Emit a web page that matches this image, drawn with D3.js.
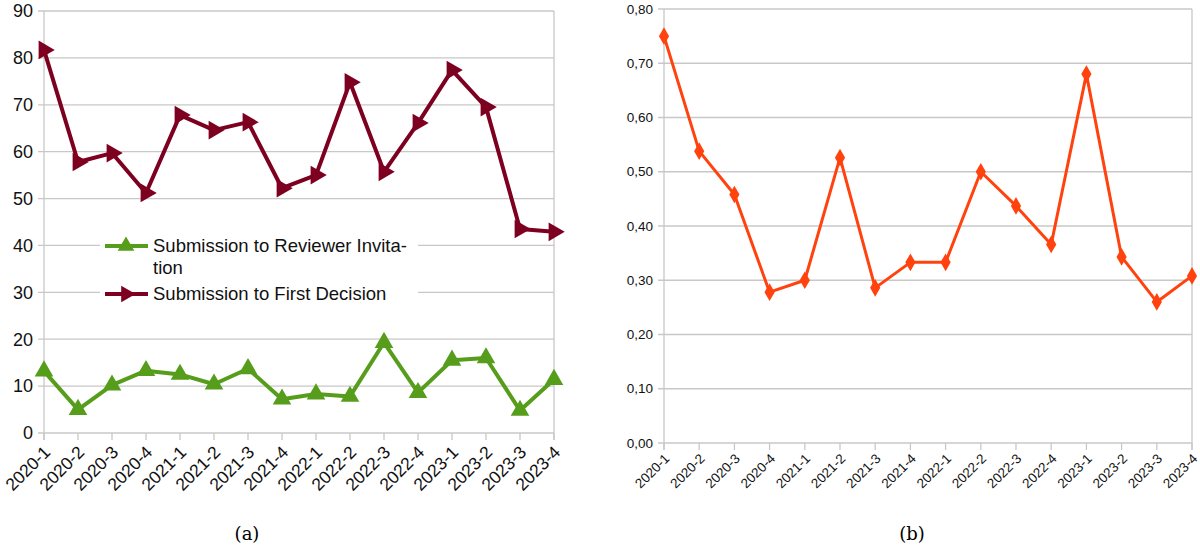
<!DOCTYPE html>
<html>
<head>
<meta charset="utf-8">
<script src="https://cdn.jsdelivr.net/npm/d3@7"></script>
<style>
  body { margin: 0; background: #fff; }
  svg { display: block; font-family: "Liberation Sans", Arial, sans-serif; }
</style>
</head>
<body>
<svg id="chart" width="1200" height="553"></svg>
<script>
const quarters = ["2020-1", "2020-2", "2020-3", "2020-4", "2021-1", "2021-2", "2021-3", "2021-4",
    "2022-1", "2022-2", "2022-3", "2022-4", "2023-1", "2023-2", "2023-3", "2023-4"];

// (a) days
const reviewerInvitation = [13.2, 5.0, 10.2, 13.3, 12.5, 10.4, 13.7, 7.2, 8.3, 7.8, 19.3, 8.6, 15.5, 16.0, 4.8, 11.4];
const firstDecision = [81.7, 57.8, 59.7, 51.2, 67.8, 64.6, 66.3, 52.2, 55.0, 74.8, 55.7, 66.1, 77.4, 69.5, 43.5, 42.9];

// (b) ratio
const ratioValues = [0.75, 0.538, 0.458, 0.278, 0.30, 0.526, 0.286, 0.333, 0.333, 0.50, 0.437, 0.366, 0.68, 0.343, 0.26, 0.308];

const leftTicks = [0, 10, 20, 30, 40, 50, 60, 70, 80, 90];
const rightTicks = [0, 0.1, 0.2, 0.3, 0.4, 0.5, 0.6, 0.7, 0.8];

const colors = {
    green: "#579d1c",
    maroon: "#7e0021",
    orange: "#ff420e",
    grid: "#c8c8c8"
};

const svg = d3.select("#chart");

function drawPanel(opts) {
    const g = svg.append("g");
    const x = d3.scalePoint().domain(quarters).range([opts.left, opts.right]);
    const y = d3.scaleLinear().domain(opts.domain).range([opts.bottom, opts.top]);

    // grid
    g.append("g")
        .selectAll("line")
        .data(opts.ticks)
        .enter()
        .append("line")
        .attr("x1", opts.left - 6)
        .attr("x2", opts.right)
        .attr("y1", d => y(d))
        .attr("y2", d => y(d))
        .attr("stroke", colors.grid)
        .attr("stroke-width", 1.3);

    // frame
    g.append("line")
        .attr("x1", opts.left).attr("x2", opts.left)
        .attr("y1", opts.top).attr("y2", opts.bottom + 7)
        .attr("stroke", colors.grid).attr("stroke-width", 1.3);
    g.append("line")
        .attr("x1", opts.right).attr("x2", opts.right)
        .attr("y1", opts.top).attr("y2", opts.bottom + 7)
        .attr("stroke", colors.grid).attr("stroke-width", 1.3);

    // y labels
    g.append("g")
        .selectAll("text")
        .data(opts.ticks)
        .enter()
        .append("text")
        .attr("x", opts.left - 11)
        .attr("y", d => y(d))
        .attr("dy", "0.35em")
        .attr("text-anchor", "end")
        .style("font-size", opts.yFont + "px")
        .attr("fill", "#111")
        .text(opts.fmt);

    // x ticks + labels
    const xa = g.append("g")
        .selectAll("g")
        .data(quarters)
        .enter()
        .append("g")
        .attr("transform", d => `translate(${x(d)},${opts.bottom})`);
    xa.append("line")
        .attr("y1", 0).attr("y2", 7)
        .attr("stroke", colors.grid).attr("stroke-width", 1.3);
    xa.append("text")
        .attr("transform", `translate(${opts.xShift},${opts.xDown}) rotate(-45)`)
        .attr("text-anchor", "end")
        .attr("dy", "0.35em")
        .style("font-size", opts.xFont + "px")
        .attr("fill", "#111")
        .text(d => d);

    return { g, x, y };
}

function series(g, values, color, width, symbolType, size, rot, xs, ys) {
    g.append("path")
        .datum(values)
        .attr("d", d3.line().x((d, i) => xs(quarters[i])).y(d => ys(d)))
        .attr("fill", "none")
        .attr("stroke", color)
        .attr("stroke-width", width)
        .attr("stroke-linejoin", "round");
    g.append("g")
        .selectAll("path")
        .data(values)
        .enter()
        .append("path")
        .attr("d", d3.symbol().type(symbolType).size(size))
        .attr("transform", (d, i) => `translate(${xs(quarters[i])},${ys(d)}) rotate(${rot})`)
        .attr("fill", color);
}

// ---------- (a)
const a = drawPanel({
    left: 44, right: 554, top: 11, bottom: 433,
    domain: [0, 90], ticks: leftTicks,
    fmt: d => d, yFont: 18, xFont: 17.5, xShift: 3, xDown: 16
});

// legend box
const legend = a.g.append("g");
legend.append("rect")
    .attr("x", 100).attr("y", 232)
    .attr("width", 318).attr("height", 76)
    .attr("fill", "#fff");

series(a.g, reviewerInvitation, colors.green, 4, d3.symbolTriangle, 150, 0, a.x, a.y);
series(a.g, firstDecision, colors.maroon, 4, d3.symbolTriangle, 150, 90, a.x, a.y);

const legendItems = [
    { label: ["Submission to Reviewer Invita-", "tion"], color: colors.green, rot: 0, y: 246 },
    { label: ["Submission to First Decision"], color: colors.maroon, rot: 90, y: 294 }
];

legendItems.forEach(item => {
    legend.append("line")
        .attr("x1", 105).attr("x2", 148)
        .attr("y1", item.y).attr("y2", item.y)
        .attr("stroke", item.color).attr("stroke-width", 4);
    legend.append("path")
        .attr("d", d3.symbol().type(d3.symbolTriangle).size(120))
        .attr("transform", `translate(126,${item.y}) rotate(${item.rot})`)
        .attr("fill", item.color);
    item.label.forEach((t, k) => {
        legend.append("text")
            .attr("x", 153)
            .attr("y", item.y + k * 22)
            .attr("dy", "0.35em")
            .style("font-size", "18.5px")
            .attr("fill", "#111")
            .text(t);
    });
});
legend.raise();

// ---------- (b)
const b = drawPanel({
    left: 664, right: 1192, top: 9, bottom: 443,
    domain: [0, 0.8], ticks: rightTicks,
    fmt: d => d3.format(".2f")(d).replace(".", ","), yFont: 13.5, xFont: 13.5, xShift: 3, xDown: 13
});

series(b.g, ratioValues, colors.orange, 3, d3.symbolDiamond, 90, 0, b.x, b.y);

// captions
svg.append("text")
    .attr("x", 247).attr("y", 540)
    .attr("text-anchor", "middle")
    .style("font-family", "'DejaVu Serif', 'Liberation Serif', serif")
    .style("font-size", "18px")
    .text("(a)");
svg.append("text")
    .attr("x", 912).attr("y", 540)
    .attr("text-anchor", "middle")
    .style("font-family", "'DejaVu Serif', 'Liberation Serif', serif")
    .style("font-size", "18px")
    .text("(b)");
</script>
</body>
</html>
